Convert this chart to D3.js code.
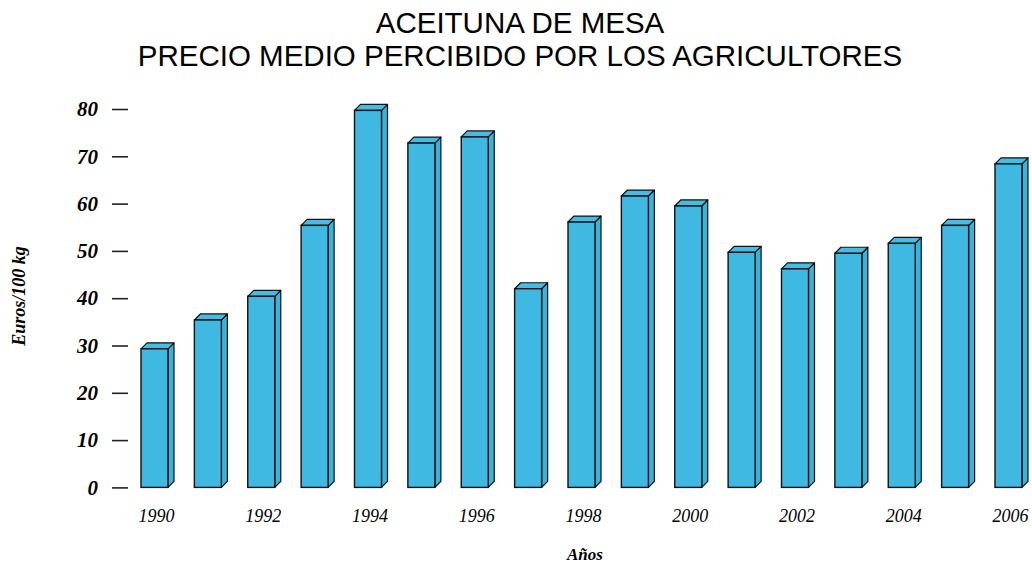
<!DOCTYPE html>
<html>
<head>
<meta charset="utf-8">
<script src="https://cdn.jsdelivr.net/npm/d3@7"></script>
<style>
  body { margin: 0; background: #fff; }
  svg { display: block; }
</style>
</head>
<body>
<svg></svg>
<script>
// data
let years = [1990, 1991, 1992, 1993, 1994, 1995, 1996, 1997, 1998,
             1999, 2000, 2001, 2002, 2003, 2004, 2005, 2006];
let prices = [29.3, 35.4, 40.4, 55.4, 79.7, 72.8, 74.1, 42.0, 56.1,
              61.6, 59.5, 49.7, 46.2, 49.5, 51.6, 55.4, 68.4];
let yTicks = [0, 10, 20, 30, 40, 50, 60, 70, 80];
let xTicks = [1990, 1992, 1994, 1996, 1998, 2000, 2002, 2004, 2006];
let titleLines = ["ACEITUNA DE MESA", "PRECIO MEDIO PERCIBIDO POR LOS AGRICULTORES"];

let width = 1032, height = 564;
let depth = 6;

let svg = d3.select("svg")
    .attr("width", width)
    .attr("height", height);

// scales
let xScale = d3.scaleBand()
    .domain(years)
    .range([141, 1022])
    .paddingInner(0.494)
    .paddingOuter(0);

let yScale = d3.scaleLinear()
    .domain([0, 80])
    .range([487.4, 109]);

// title
svg.selectAll(".title")
    .data(titleLines)
    .enter()
    .append("text")
    .attr("class", "title")
    .attr("x", 520)
    .attr("y", (d, i) => 33 + i * 33)
    .attr("text-anchor", "middle")
    .style("font-family", "'Liberation Sans', Arial, sans-serif")
    .style("font-size", "29.5px")
    .attr("fill", "#000")
    .text(d => d);

// y axis: ticks only, no domain line
let yAxis = d3.axisLeft(yScale)
    .tickValues(yTicks)
    .tickSize(16)
    .tickPadding(14);

let yg = svg.append("g")
    .attr("transform", "translate(128, 0)")
    .call(yAxis);
yg.select(".domain").remove();
yg.selectAll("line").attr("stroke", "#222").attr("stroke-width", 1.6);
yg.selectAll("text")
    .style("font-family", "'Liberation Serif', 'Times New Roman', serif")
    .style("font-style", "italic")
    .style("font-weight", "bold")
    .style("font-size", "21px")
    .attr("fill", "#000");

// x axis: labels on even years
let xAxis = d3.axisBottom(xScale)
    .tickValues(xTicks)
    .tickSize(0)
    .tickPadding(22);

let xg = svg.append("g")
    .attr("transform", "translate(2, 487.4)")
    .call(xAxis);
xg.select(".domain").remove();
xg.selectAll("text")
    .style("font-family", "'Liberation Serif', 'Times New Roman', serif")
    .style("font-style", "italic")
    .style("font-size", "18px")
    .attr("fill", "#000");

// bars, drawn as side / top / front faces
let bars = svg.selectAll(".bar")
    .data(years.map((y, i) => ({ year: y, value: prices[i] })))
    .enter()
    .append("g")
    .attr("class", "bar");

let bw = xScale.bandwidth();
let base = yScale(0);

bars.append("path")
    .attr("d", d => {
        let x = xScale(d.year) + bw, y = yScale(d.value);
        return `M${x},${y} L${x + depth},${y - depth} L${x + depth},${base - depth} L${x},${base} Z`;
    })
    .attr("fill", "#3bb2da")
    .attr("stroke", "#111")
    .attr("stroke-width", 1.2)
    .attr("stroke-linejoin", "round");

bars.append("path")
    .attr("d", d => {
        let x = xScale(d.year), y = yScale(d.value);
        return `M${x},${y} L${x + depth},${y - depth} L${x + bw + depth},${y - depth} L${x + bw},${y} Z`;
    })
    .attr("fill", "#45bce3")
    .attr("stroke", "#111")
    .attr("stroke-width", 1.2)
    .attr("stroke-linejoin", "round");

bars.append("rect")
    .attr("x", d => xScale(d.year))
    .attr("y", d => yScale(d.value))
    .attr("width", bw)
    .attr("height", d => base - yScale(d.value))
    .attr("fill", "#3fb9e2")
    .attr("stroke", "#111")
    .attr("stroke-width", 1.4);

// axis titles
svg.append("text")
    .attr("transform", "translate(25, 296) rotate(-90)")
    .attr("text-anchor", "middle")
    .style("font-family", "'Liberation Serif', 'Times New Roman', serif")
    .style("font-style", "italic")
    .style("font-weight", "bold")
    .style("font-size", "18px")
    .text("Euros/100 kg");

svg.append("text")
    .attr("x", 585)
    .attr("y", 560)
    .attr("text-anchor", "middle")
    .style("font-family", "'Liberation Serif', 'Times New Roman', serif")
    .style("font-style", "italic")
    .style("font-weight", "bold")
    .style("font-size", "17px")
    .text("Años");
</script>
</body>
</html>
